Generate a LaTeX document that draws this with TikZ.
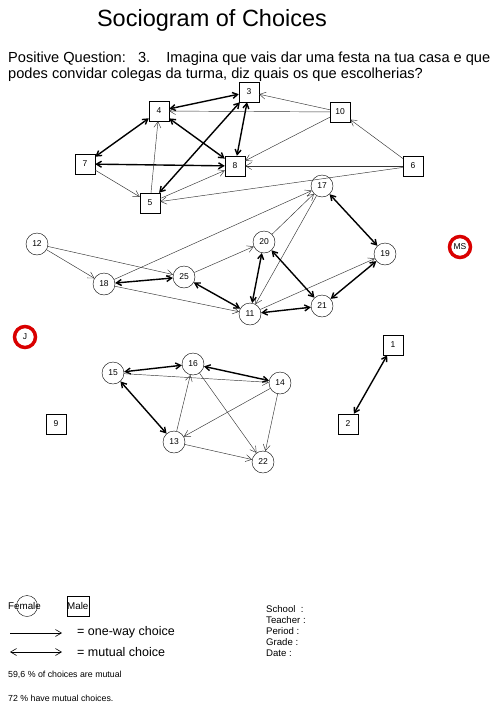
\documentclass[tikz,border=0pt]{standalone}
\usepackage{fontspec}
\setmainfont{Liberation Sans}
\usetikzlibrary{arrows.meta}
\begin{document}
\begin{tikzpicture}[x=1pt,y=-1pt,
  fem/.style={circle,draw,minimum size=22pt,inner sep=0pt,font=\fontsize{8.5}{9}\selectfont},
  mal/.style={rectangle,draw,minimum size=20pt,inner sep=0pt,font=\fontsize{8.5}{9}\selectfont},
  iso/.style={circle,draw=red!85!black,line width=3.5pt,minimum size=21pt,inner sep=0pt,font=\fontsize{8.5}{9}\selectfont},
  one/.style={draw=black!80,line width=0.45pt,-{Straight Barb[length=6pt,width=7pt]}},
  mut/.style={draw=black,line width=1.4pt,{Straight Barb[length=5pt,width=6pt]}-{Straight Barb[length=5pt,width=6pt]}},
  lab/.style={anchor=west,inner sep=0pt,font=\fontsize{8.8}{10}\selectfont}]
\useasboundingbox (0,0) rectangle (502,704);
\node (title) at (212,20) {\fontsize{23.5}{26}\selectfont Sociogram of Choices};
\node[anchor=north west,inner sep=0pt,align=left,font=\fontsize{14.6}{16}\selectfont] (q) at (8,52)
  {Positive Question:\ \ \ 3.\ \ \ \ Imagina que vais dar uma festa na tua casa e que\\podes convidar colegas da turma, diz quais os que escolherias?};
% male
\node[mal] (n3) at (249,92) {3};
\node[mal] (n4) at (159,111) {4};
\node[mal] (n10) at (340,112) {10};
\node[mal] (n7) at (85,164) {7};
\node[mal] (n8) at (235,166) {8};
\node[mal] (n6) at (413,166) {6};
\node[mal] (n5) at (150,203) {5};
\node[mal] (n1) at (393,345) {1};
\node[mal] (n2) at (348,424) {2};
\node[mal] (n9) at (56,424) {9};
% female
\node[fem] (n17) at (322,186) {17};
\node[fem] (n12) at (37,244) {12};
\node[fem] (n20) at (264,242) {20};
\node[fem] (n19) at (385,254) {19};
\node[fem] (n18) at (104,284) {18};
\node[fem] (n25) at (184,277) {25};
\node[fem] (n11) at (250,314) {11};
\node[fem] (n21) at (322,306) {21};
\node[fem] (n15) at (113,373) {15};
\node[fem] (n16) at (193,364) {16};
\node[fem] (n14) at (280,383) {14};
\node[fem] (n13) at (174,442) {13};
\node[fem] (n22) at (263,462) {22};
\node[iso] (nMS) at (460,247) {MS};
\node[iso] (nJ) at (25,337) {J};
% top group
\draw[mut] (n3) -- (n4);
\draw[one] (n10) -- (n3);
\draw[one] (n10) -- (n4);
\draw[mut] (n4) -- (n7);
\draw[mut] (n4) -- (n8);
\draw[mut] (n3) -- (n8);
\draw[mut] (n3) -- (n5);
\draw[mut] (n7) -- (n8);
\draw[one] (n5) -- (n4);
\draw[one] (n7) -- (n5);
\draw[one] (n5) -- (n8);
\draw[one] (n10) -- (n8);
\draw[one] (n6) -- (n10);
\draw[one] (n6) -- (n8);
\draw[one] (n6) -- (n5);
% middle group
\draw[mut] (n17) -- (n19);
\draw[one] (n18) -- (n17);
\draw[one] (n20) -- (n17);
\draw[one] (n17) -- (n11);
\draw[one] (n12) -- (n18);
\draw[one] (n12) -- (n25);
\draw[mut] (n18) -- (n25);
\draw[one] (n18) -- (n11);
\draw[one] (n25) -- (n20);
\draw[mut] (n25) -- (n11);
\draw[mut] (n20) -- (n11);
\draw[mut] (n20) -- (n21);
\draw[mut] (n11) -- (n21);
\draw[one] (n11) -- (n19);
\draw[mut] (n19) -- (n21);
% bottom group
\draw[mut] (n15) -- (n16);
\draw[mut] (n16) -- (n14);
\draw[one] (n15) -- (n14);
\draw[mut] (n15) -- (n13);
\draw[one] (n13) -- (n16);
\draw[one] (n14) -- (n13);
\draw[one] (n14) -- (n22);
\draw[one] (n16) -- (n22);
\draw[one] (n13) -- (n22);
\draw[mut] (n1) -- (n2);
% legend
\node[lab,font=\fontsize{9.8}{11}\selectfont] (lf) at (8,606) {Female};
\node[circle,draw,minimum size=21pt,inner sep=0pt] (lfc) at (27,606) {};
\node[lab,font=\fontsize{9.8}{11}\selectfont] (lm) at (67,606) {Male};
\node[rectangle,draw,minimum width=22pt,minimum height=20pt,inner sep=0pt] (lmc) at (78,606) {};
\coordinate (a1) at (10,633);
\coordinate (b1) at (62,633);
\draw[draw=black,line width=0.6pt,-{Straight Barb[length=6pt,width=7pt]}] (a1) -- (b1);
\node[lab,font=\fontsize{12.5}{14}\selectfont] (l1) at (77,632) {= one-way choice};
\coordinate (a2) at (10,652);
\coordinate (b2) at (62,652);
\draw[draw=black,line width=0.6pt,{Straight Barb[length=6pt,width=7pt]}-{Straight Barb[length=6pt,width=7pt]}] (a2) -- (b2);
\node[lab,font=\fontsize{12.5}{14}\selectfont] (l2) at (77,652) {= mutual choice};
\node[lab] (p1) at (8,675) {59,6 \% of choices are mutual};
\node[lab] (p2) at (8,698) {72 \% have mutual choices.};
\node[lab,align=left,anchor=north west,font=\fontsize{9.6}{11.2}\selectfont] (info) at (266,605) {School\ \ :\\Teacher :\\Period :\\Grade :\\Date :};
\end{tikzpicture}
\end{document}
